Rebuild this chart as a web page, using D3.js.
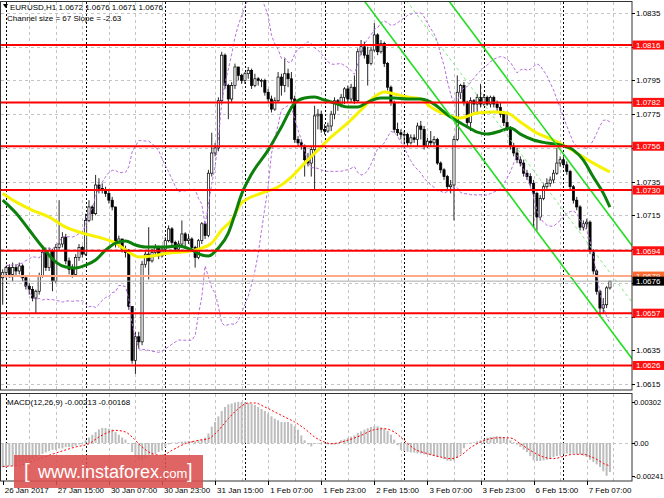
<!DOCTYPE html>
<html>
<head>
<meta charset="utf-8">
<script src="https://cdn.jsdelivr.net/npm/d3@7"></script>
<style>
  body { margin: 0; background: #fff; }
  svg text { font-family: "Liberation Sans", Arial, sans-serif; }
</style>
</head>
<body>
<div id="chart"></div>
<script>
// EURUSD H1, bars 0..183 (26 Jan 23:00 .. 7 Feb 14:00), open = previous close
var firstOpen = 1.0678;
var closes = [
  1.0681,1.0684,1.0680,1.0684,1.0682,1.0685,1.0678,1.0673,1.0671,1.0666,
  1.0670,1.0679,1.0693,1.0684,1.0694,1.0676,1.0696,1.0698,1.0702,1.0688,
  1.0683,1.0680,1.0690,1.0696,1.0692,1.0712,1.0720,1.0716,1.0733,1.0731,
  1.0730,1.0728,1.0724,1.0720,1.0698,1.0701,1.0695,1.0693,1.0661,1.0629,
  1.0643,1.0640,1.0686,1.0692,1.0688,1.0693,1.0696,1.0691,1.0695,1.0700,
  1.0707,1.0699,1.0695,1.0698,1.0704,1.0700,1.0701,1.0696,1.0690,1.0700,
  1.0710,1.0703,1.0740,1.0752,1.0755,1.0783,1.0810,1.0792,1.0784,1.0792,
  1.0803,1.0798,1.0795,1.0799,1.0801,1.0792,1.0796,1.0795,1.0795,1.0788,
  1.0784,1.0778,1.0783,1.0797,1.0792,1.0799,1.0796,1.0784,1.0760,1.0758,
  1.0756,1.0748,1.0746,1.0754,1.0774,1.0775,1.0766,1.0765,1.0768,1.0775,
  1.0783,1.0781,1.0785,1.0790,1.0784,1.0791,1.0783,1.0812,1.0815,1.0810,
  1.0805,1.0813,1.0822,1.0812,1.0817,1.0805,1.0791,1.0782,1.0766,1.0764,
  1.0763,1.0763,1.0758,1.0761,1.0760,1.0768,1.0766,1.0756,1.0759,1.0758,
  1.0760,1.0746,1.0742,1.0738,1.0732,1.0733,1.0760,1.0788,1.0792,1.0782,
  1.0770,1.0783,1.0781,1.0785,1.0781,1.0785,1.0781,1.0785,1.0781,1.0779,
  1.0775,1.0770,1.0767,1.0756,1.0752,1.0748,1.0746,1.0740,1.0738,1.0734,
  1.0728,1.0714,1.0725,1.0732,1.0734,1.0736,1.0740,1.0746,1.0748,1.0745,
  1.0741,1.0732,1.0724,1.0720,1.0708,1.0710,1.0711,1.0694,1.0682,1.0670,
  1.0660,1.0662,1.0672,1.0676
];
var highs = [
  1.0683,1.0685,1.0686,1.0687,1.0686,1.0687,1.0686,1.0679,1.0675,1.0673,
  1.0671,1.0681,1.0695,1.0696,1.0696,1.0695,1.0698,1.0724,1.0705,1.0704,
  1.0690,1.0686,1.0692,1.0698,1.0697,1.0716,1.0724,1.0721,1.0739,1.0737,
  1.0734,1.0732,1.0730,1.0726,1.0720,1.0703,1.0701,1.0697,1.0695,1.0661,
  1.0646,1.0646,1.0688,1.0694,1.0708,1.0695,1.0698,1.0697,1.0697,1.0702,
  1.0709,1.0708,1.0700,1.0700,1.0712,1.0705,1.0704,1.0702,1.0697,1.0701,
  1.0711,1.0711,1.0742,1.0764,1.0758,1.0785,1.0812,1.0811,1.0793,1.0794,
  1.0805,1.0803,1.0799,1.0800,1.0803,1.0802,1.0799,1.0797,1.0796,1.0796,
  1.0790,1.0786,1.0785,1.0800,1.0799,1.0808,1.0802,1.0800,1.0786,1.0762,
  1.0760,1.0757,1.0752,1.0756,1.0780,1.0778,1.0777,1.0769,1.0770,1.0777,
  1.0785,1.0784,1.0787,1.0791,1.0792,1.0793,1.0798,1.0814,1.0819,1.0818,
  1.0815,1.0815,1.0829,1.0823,1.0819,1.0818,1.0806,1.0792,1.0783,1.0770,
  1.0766,1.0765,1.0764,1.0763,1.0763,1.0770,1.0771,1.0768,1.0761,1.0765,
  1.0762,1.0761,1.0747,1.0743,1.0739,1.0736,1.0762,1.0798,1.0793,1.0794,
  1.0783,1.0785,1.0784,1.0787,1.0793,1.0787,1.0786,1.0786,1.0786,1.0783,
  1.0782,1.0777,1.0775,1.0768,1.0758,1.0755,1.0750,1.0748,1.0742,1.0740,
  1.0736,1.0729,1.0727,1.0734,1.0737,1.0738,1.0742,1.0755,1.0750,1.0750,
  1.0747,1.0742,1.0733,1.0726,1.0721,1.0712,1.0713,1.0712,1.0695,1.0683,
  1.0671,1.0666,1.0673,1.0676
];
var lows = [
  1.0662,1.0678,1.0678,1.0676,1.0679,1.0680,1.0676,1.0671,1.0668,1.0664,
  1.0657,1.0668,1.0678,1.0682,1.0682,1.0670,1.0675,1.0694,1.0696,1.0686,
  1.0680,1.0678,1.0679,1.0688,1.0690,1.0691,1.0711,1.0712,1.0715,1.0728,
  1.0728,1.0726,1.0722,1.0718,1.0696,1.0696,1.0693,1.0690,1.0659,1.0627,
  1.0621,1.0636,1.0638,1.0684,1.0677,1.0687,1.0691,1.0689,1.0690,1.0693,
  1.0699,1.0697,1.0693,1.0694,1.0696,1.0695,1.0698,1.0694,1.0684,1.0689,
  1.0698,1.0701,1.0702,1.0738,1.0750,1.0753,1.0781,1.0790,1.0772,1.0782,
  1.0790,1.0795,1.0793,1.0793,1.0796,1.0790,1.0791,1.0792,1.0791,1.0786,
  1.0782,1.0776,1.0777,1.0782,1.0786,1.0788,1.0791,1.0782,1.0758,1.0756,
  1.0754,1.0738,1.0744,1.0738,1.0730,1.0766,1.0764,1.0763,1.0764,1.0765,
  1.0772,1.0777,1.0779,1.0781,1.0782,1.0782,1.0781,1.0782,1.0810,1.0808,
  1.0792,1.0804,1.0812,1.0810,1.0811,1.0803,1.0789,1.0780,1.0764,1.0762,
  1.0760,1.0757,1.0756,1.0757,1.0758,1.0756,1.0760,1.0754,1.0755,1.0756,
  1.0756,1.0745,1.0740,1.0736,1.0730,1.0728,1.0712,1.0759,1.0784,1.0780,
  1.0768,1.0765,1.0776,1.0775,1.0779,1.0780,1.0780,1.0779,1.0779,1.0777,
  1.0773,1.0768,1.0765,1.0754,1.0750,1.0746,1.0744,1.0738,1.0736,1.0732,
  1.0708,1.0706,1.0712,1.0724,1.0730,1.0732,1.0734,1.0739,1.0744,1.0743,
  1.0739,1.0730,1.0722,1.0718,1.0706,1.0706,1.0707,1.0692,1.0680,1.0668,
  1.0655,1.0657,1.0660,1.0671
];

// moving averages (bar index, price)
var yellowBars = [0,4,9,14,19,24,29,34,38,41,45,50,54,60,63,66,69,72,78,83,87,91,95,99,104,108,112,115,118,122,126,129,134,138,143,148,152,156,161,166,170,174,178,183];
var yellowVals = [1.07280,1.07230,1.07180,1.07140,1.07080,1.07045,1.07020,1.06986,1.06932,1.06903,1.06909,1.06927,1.06932,1.06956,1.06986,1.07063,1.07122,1.07223,1.07282,1.07318,1.07377,1.07460,1.07537,1.07615,1.07698,1.07775,1.07852,1.07881,1.07870,1.07852,1.07840,1.07792,1.07745,1.07727,1.07757,1.07763,1.07757,1.07704,1.07638,1.07597,1.07555,1.07508,1.07460,1.07407];
var greenBars = [0,4,8,12,16,19,22,25,28,31,34,37,40,43,49,53,57,60,62,65,68,70,72,75,80,84,88,91,94,97,100,104,107,110,114,118,122,126,129,135,139,143,146,150,153,156,160,164,168,172,175,178,181,183];
var greenVals = [1.07241,1.07164,1.07063,1.06962,1.06873,1.06844,1.06838,1.06855,1.06885,1.06944,1.06986,1.06998,1.06974,1.06962,1.06962,1.06968,1.06944,1.06915,1.06909,1.06956,1.07045,1.07157,1.07276,1.07395,1.07537,1.07674,1.07816,1.07846,1.07852,1.07834,1.07816,1.07792,1.07792,1.07822,1.07846,1.07846,1.07840,1.07840,1.07822,1.07733,1.07686,1.07644,1.07632,1.07650,1.07668,1.07632,1.07597,1.07579,1.07567,1.07537,1.07478,1.07377,1.07282,1.07199];

// MACD(12,26,9): main histogram per bar, signal read at bars
var macdMain = [
  -0.00180,-0.00180,-0.00170,-0.00170,-0.00160,-0.00150,-0.00150,-0.00140,-0.00130,-0.00120,
  -0.00110,-0.00090,-0.00080,-0.00070,-0.00060,-0.00050,-0.00050,-0.00040,-0.00040,-0.00030,
  -0.00030,-0.00030,-0.00020,-0.00010,0.00000,0.00020,0.00040,0.00060,0.00080,0.00100,
  0.00110,0.00110,0.00105,0.00100,0.00080,0.00060,0.00040,0.00025,0.00000,-0.00066,
  -0.00100,-0.00127,-0.00127,-0.00115,-0.00100,-0.00090,-0.00080,-0.00066,-0.00050,-0.00030,
  -0.00010,0.00003,0.00003,0.00007,0.00010,0.00012,0.00015,0.00015,0.00012,0.00020,
  0.00025,0.00040,0.00070,0.00120,0.00155,0.00196,0.00235,0.00265,0.00284,0.00290,
  0.00298,0.00302,0.00301,0.00299,0.00294,0.00286,0.00280,0.00265,0.00250,0.00235,
  0.00216,0.00196,0.00179,0.00167,0.00154,0.00154,0.00154,0.00142,0.00123,0.00098,
  0.00056,0.00020,-0.00010,-0.00025,-0.00005,-0.00005,0.00000,-0.00005,-0.00010,-0.00010,
  -0.00012,-0.00005,0.00020,0.00027,0.00037,0.00047,0.00056,0.00074,0.00086,0.00098,
  0.00108,0.00118,0.00123,0.00123,0.00115,0.00105,0.00088,0.00061,0.00025,-0.00017,
  -0.00049,-0.00059,-0.00064,-0.00069,-0.00071,-0.00076,-0.00078,-0.00083,-0.00088,-0.00090,
  -0.00096,-0.00100,-0.00105,-0.00118,-0.00130,-0.00132,-0.00127,-0.00110,-0.00083,-0.00039,
  -0.00005,0.00002,0.00005,0.00012,0.00020,0.00027,0.00039,0.00044,0.00047,0.00049,
  0.00047,0.00044,0.00032,0.00020,0.00005,-0.00012,-0.00029,-0.00049,-0.00066,-0.00096,
  -0.00127,-0.00132,-0.00132,-0.00127,-0.00123,-0.00113,-0.00103,-0.00096,-0.00091,-0.00083,
  -0.00078,-0.00078,-0.00078,-0.00081,-0.00083,-0.00093,-0.00103,-0.00123,-0.00140,-0.00157,
  -0.00176,-0.00208,-0.00241,-0.00213
];
var signalBars = [0,5,11,17,22,26,29,32,34,37,39,42,45,48,51,55,59,62,65,68,71,74,76,79,82,85,88,91,94,97,99,104,108,112,115,118,121,124,128,132,135,138,141,144,147,150,153,156,159,163,166,169,172,175,177,179,181,183];
var signalVals = [-0.00172,-0.00164,-0.00115,-0.00066,-0.00029,-0.00005,0.00044,0.00081,0.00093,0.00081,0.00044,-0.00029,-0.00078,-0.00091,-0.00054,-0.00005,0.00020,0.00032,0.00093,0.00179,0.00252,0.00294,0.00294,0.00265,0.00228,0.00191,0.00154,0.00105,0.00044,0.00007,-0.00005,0.00020,0.00056,0.00098,0.00105,0.00081,0.00020,-0.00042,-0.00078,-0.00103,-0.00115,-0.00091,-0.00034,0.00007,0.00032,0.00039,0.00037,-0.00005,-0.00054,-0.00103,-0.00115,-0.00098,-0.00083,-0.00083,-0.00098,-0.00120,-0.00150,-0.00168];

// levels and channel
var redLevels = [1.0816, 1.0782, 1.0756, 1.0730, 1.0694, 1.0657, 1.0626];
var askLevel = 1.0679, bidLevel = 1.0676;
var priceTicks = [1.0615,1.0635,1.0655,1.0675,1.0695,1.0715,1.0735,1.0755,1.0775,1.0795,1.0815,1.0835];
var macdTicks = [0.00302, 0.00, -0.00241];
var chanEndBar = 183, chanEndMid = 1.0681, chanSize = 0.0067, chanSlope = -0.000263;

// time axis
var timeTickBars = [0,16,32,48,64,80,96,112,128,144,160,176];
var timeTickLabels = ["26 Jan 2017","27 Jan 15:00","30 Jan 07:00","30 Jan 23:00","31 Jan 15:00","1 Feb 07:00","1 Feb 23:00","2 Feb 15:00","3 Feb 07:00","3 Feb 23:00","6 Feb 15:00","7 Feb 07:00"];
var daySeparatorBars = [1,25,49,73,97,121,145,169];

var width = 664, height = 498;
var main = {left: 1, right: 632, top: 2, bottom: 390},
    sub = {top: 394, bottom: 481};

var svg = d3.select("#chart").append("svg")
    .attr("width", width)
    .attr("height", height);

var x = d3.scaleLinear().domain([0, 176]).range([2.7, 586.7]);
var y = d3.scaleLinear().domain([1.0615, 1.0835]).range([384, 13]);
var yM = d3.scaleLinear().domain([-0.00241, 0.00302]).range([475.8, 401.9]);

var defs = svg.append("defs");
defs.append("clipPath").attr("id", "clip-main").append("rect")
    .attr("x", main.left).attr("y", main.top)
    .attr("width", main.right - main.left).attr("height", main.bottom - main.top);
defs.append("clipPath").attr("id", "clip-sub").append("rect")
    .attr("x", main.left).attr("y", sub.top)
    .attr("width", main.right - main.left).attr("height", sub.bottom - sub.top);

// grid
var gridG = svg.append("g");
var gridBars = d3.range(8, 190, 8);
[[main.top, main.bottom], [sub.top, sub.bottom]].forEach(function (p) {
    gridG.selectAll(null).data(gridBars).enter().append("line")
        .attr("x1", function (d) { return Math.round(x(d)) + 0.5; })
        .attr("x2", function (d) { return Math.round(x(d)) + 0.5; })
        .attr("y1", p[0]).attr("y2", p[1])
        .attr("stroke", "#c4c4c4").attr("stroke-dasharray", "3,3");
});
gridG.selectAll(null).data(priceTicks).enter().append("line")
    .attr("x1", main.left).attr("x2", main.right)
    .attr("y1", function (d) { return Math.round(y(d)) + 0.5; })
    .attr("y2", function (d) { return Math.round(y(d)) + 0.5; })
    .attr("stroke", "#c4c4c4").attr("stroke-dasharray", "3,3");
gridG.append("line")
    .attr("x1", main.left).attr("x2", main.right)
    .attr("y1", Math.round(yM(0)) + 0.5).attr("y2", Math.round(yM(0)) + 0.5)
    .attr("stroke", "#c4c4c4").attr("stroke-dasharray", "3,3");
[[main.top, main.bottom], [sub.top, sub.bottom]].forEach(function (p) {
    gridG.selectAll(null).data(daySeparatorBars).enter().append("line")
        .attr("x1", function (d) { return Math.round(x(d)) + 0.5; })
        .attr("x2", function (d) { return Math.round(x(d)) + 0.5; })
        .attr("y1", p[0]).attr("y2", p[1])
        .attr("stroke", "#000").attr("stroke-dasharray", "2,2");
});

var mainG = svg.append("g").attr("clip-path", "url(#clip-main)");

// candles
var bars = closes.map(function (c, i) {
    return {i: i, o: i ? closes[i - 1] : firstOpen, h: highs[i], l: lows[i], c: c};
});
mainG.selectAll("line.wick").data(bars).enter().append("line")
    .attr("class", "wick")
    .attr("x1", function (d) { return x(d.i); })
    .attr("x2", function (d) { return x(d.i); })
    .attr("y1", function (d) { return y(d.h); })
    .attr("y2", function (d) { return y(d.l); })
    .attr("stroke", "#111").attr("stroke-width", 0.9);
mainG.selectAll("rect.body").data(bars).enter().append("rect")
    .attr("class", "body")
    .attr("x", function (d) { return x(d.i) - 1.1; })
    .attr("width", 2.2)
    .attr("y", function (d) { return y(Math.max(d.o, d.c)); })
    .attr("height", function (d) { return Math.max(0.8, Math.abs(y(d.o) - y(d.c))); })
    .attr("fill", function (d) { return d.c >= d.o ? "#fff" : "#000"; })
    .attr("stroke", "#000").attr("stroke-width", 0.7);

// bollinger bands (20, 2) from the closes
var upper = [], lower = [];
closes.forEach(function (c, i) {
    if (i < 1) return;
    var win = closes.slice(Math.max(0, i - 19), i + 1),
        m = d3.mean(win),
        sd = Math.sqrt(d3.mean(win, function (v) { return (v - m) * (v - m); }));
    upper.push([i, m + 2 * sd]);
    lower.push([i, m - 2 * sd]);
});
var bandLine = d3.line().x(function (d) { return x(d[0]); }).y(function (d) { return y(d[1]); });
[upper, lower].forEach(function (b) {
    mainG.append("path").datum(b).attr("d", bandLine)
        .attr("fill", "none").attr("stroke", "#b56ee0")
        .attr("stroke-width", 1).attr("stroke-dasharray", "3,2");
});

// moving averages
var maLine = d3.line().curve(d3.curveMonotoneX)
    .x(function (d) { return x(d[0]); }).y(function (d) { return y(d[1]); });
mainG.append("path").datum(d3.zip(yellowBars, yellowVals)).attr("d", maLine)
    .attr("fill", "none").attr("stroke", "#f7f200").attr("stroke-width", 3);
mainG.append("path").datum(d3.zip(greenBars, greenVals)).attr("d", maLine)
    .attr("fill", "none").attr("stroke", "#0b800b").attr("stroke-width", 3);

// regression channel
function chan(b, off) { return chanEndMid + chanSlope * (b - chanEndBar) + off; }
[[chanSize / 2, "#22dd22", null, 1.6], [-chanSize / 2, "#22dd22", null, 1.6], [0, "#7fe87f", "3,3", 1]].forEach(function (c) {
    mainG.append("line")
        .attr("x1", x(100)).attr("y1", y(chan(100, c[0])))
        .attr("x2", x(192)).attr("y2", y(chan(192, c[0])))
        .attr("stroke", c[1]).attr("stroke-width", c[3])
        .attr("stroke-dasharray", c[2]);
});

// horizontal levels
mainG.append("line")
    .attr("x1", main.left).attr("x2", main.right)
    .attr("y1", y(bidLevel)).attr("y2", y(bidLevel))
    .attr("stroke", "#a8a8a8").attr("stroke-width", 1);
mainG.append("line")
    .attr("x1", main.left).attr("x2", main.right)
    .attr("y1", y(askLevel)).attr("y2", y(askLevel))
    .attr("stroke", "#ffaa88").attr("stroke-width", 2);
mainG.selectAll("line.level").data(redLevels).enter().append("line")
    .attr("class", "level")
    .attr("x1", main.left).attr("x2", main.right)
    .attr("y1", function (d) { return y(d); })
    .attr("y2", function (d) { return y(d); })
    .attr("stroke", "#ff0000").attr("stroke-width", 2);

// MACD panel
var subG = svg.append("g").attr("clip-path", "url(#clip-sub)");
subG.selectAll("rect.hist").data(macdMain).enter().append("rect")
    .attr("class", "hist")
    .attr("x", function (d, i) { return x(i) - 1; })
    .attr("width", 2)
    .attr("y", function (d) { return Math.min(yM(d), yM(0)); })
    .attr("height", function (d) { return Math.abs(yM(d) - yM(0)); })
    .attr("fill", "#bdbdbd");
subG.append("path").datum(d3.zip(signalBars, signalVals))
    .attr("d", d3.line().curve(d3.curveMonotoneX)
        .x(function (d) { return x(d[0]); }).y(function (d) { return yM(d[1]); }))
    .attr("fill", "none").attr("stroke", "#ff0000")
    .attr("stroke-width", 1).attr("stroke-dasharray", "2,2");

// frames
svg.append("rect").attr("x", 0.5).attr("y", 1.5)
    .attr("width", main.right - 0.5).attr("height", main.bottom - 1.5)
    .attr("fill", "none").attr("stroke", "#333");
svg.append("rect").attr("x", 0.5).attr("y", sub.top - 0.5)
    .attr("width", main.right - 0.5).attr("height", sub.bottom - sub.top + 0.5)
    .attr("fill", "none").attr("stroke", "#333");

// right price axis; scale labels that sit under a price tag stay hidden
var tagLevels = redLevels.concat([askLevel, bidLevel]);
var freeTicks = priceTicks.filter(function (t) {
    return tagLevels.every(function (v) { return Math.abs(y(t) - y(v)) > 7; });
});
var axG = svg.append("g").attr("font-size", "8px");
axG.selectAll(null).data(priceTicks).enter().append("line")
    .attr("x1", main.right).attr("x2", main.right + 3)
    .attr("y1", function (d) { return Math.round(y(d)) + 0.5; })
    .attr("y2", function (d) { return Math.round(y(d)) + 0.5; })
    .attr("stroke", "#000");
axG.selectAll(null).data(freeTicks).enter().append("text")
    .attr("x", 636).attr("y", function (d) { return y(d) + 3; })
    .text(function (d) { return d.toFixed(4); });

function priceTag(v, bg) {
    axG.append("rect").attr("x", main.right + 0.5).attr("y", y(v) - 4.5)
        .attr("width", width - main.right - 0.5).attr("height", 9).attr("fill", bg);
    axG.append("text").attr("x", 636).attr("y", y(v) + 3)
        .attr("fill", "#fff").text(v.toFixed(4));
}
redLevels.forEach(function (v) { priceTag(v, "#ff1010"); });
priceTag(askLevel, "#ff6a30");
priceTag(bidLevel, "#000");

// MACD axis
axG.selectAll(null).data(macdTicks).enter().append("line")
    .attr("x1", main.right).attr("x2", main.right + 3)
    .attr("y1", function (d) { return Math.round(yM(d)) + 0.5; })
    .attr("y2", function (d) { return Math.round(yM(d)) + 0.5; })
    .attr("stroke", "#000");
axG.selectAll(null).data(macdTicks).enter().append("text")
    .attr("x", 634).attr("y", function (d) { return yM(d) + 3; })
    .attr("font-size", "7.5px")
    .text(function (d) { return d === 0 ? "0.00" : d.toFixed(5); });

// time axis
axG.selectAll(null).data(timeTickBars).enter().append("line")
    .attr("x1", function (d) { return Math.round(x(d)) + 0.5; })
    .attr("x2", function (d) { return Math.round(x(d)) + 0.5; })
    .attr("y1", sub.bottom).attr("y2", sub.bottom + 4)
    .attr("stroke", "#000");
axG.selectAll(null).data(timeTickBars).enter().append("text")
    .attr("x", function (d) { return x(d) + 2; })
    .attr("y", 493)
    .text(function (d, i) { return timeTickLabels[i]; });

// header
svg.append("path").attr("d", "M3,4 L8,4 L5.5,8 Z").attr("fill", "#000");
svg.append("text").attr("x", 10).attr("y", 10).attr("font-size", "8px")
    .text("EURUSD,H1  1.0672 1.0676 1.0671 1.0676");
svg.append("text").attr("x", 7).attr("y", 21).attr("font-size", "8px")
    .text("Channel size = 67 Slope = -2.63");
svg.append("text").attr("x", 7).attr("y", 405).attr("font-size", "8px")
    .text("MACD(12,26,9) -0.00213 -0.00168");

// watermark
svg.append("rect").attr("x", 14).attr("y", 455).attr("width", 189).attr("height", 33)
    .attr("fill", "#db4e4e").attr("opacity", 0.88);
var wm = svg.append("text").attr("x", 24).attr("y", 478).attr("fill", "#fff");
wm.append("tspan").attr("font-size", "20px").text("[");
wm.append("tspan").attr("x", 38).attr("font-size", "18px").text("www.instaforex");
wm.append("tspan").attr("font-size", "13px").text(".com");
wm.append("tspan").attr("x", 187).attr("font-size", "20px").text("]");
</script>
</body>
</html>
